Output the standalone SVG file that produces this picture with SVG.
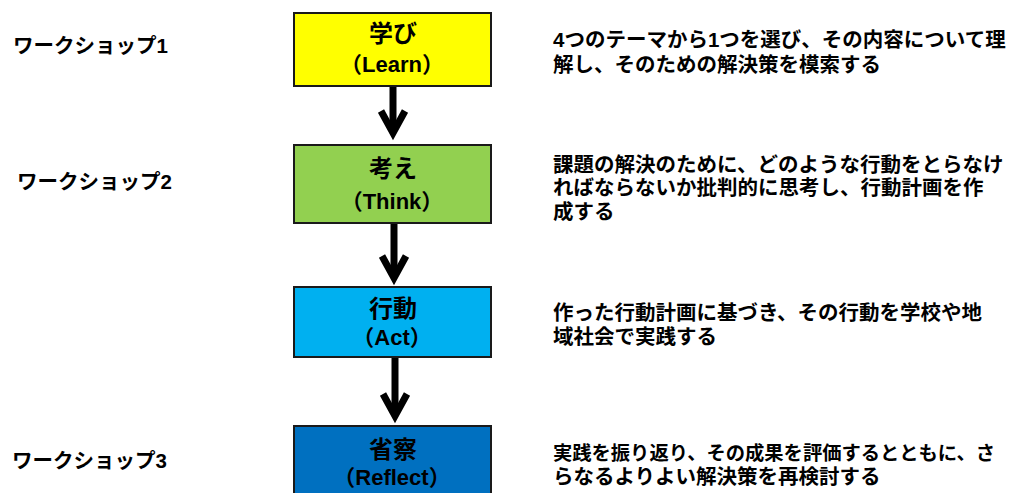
<svg xmlns="http://www.w3.org/2000/svg" width="1010" height="493" viewBox="0 0 1010 493">
<style>
  .box{stroke:#1a1a1a;stroke-width:2}
  .t{font-family:"Liberation Sans","Noto Sans CJK JP",sans-serif;font-weight:bold;fill:#000}
  .bt{font-size:22px;text-anchor:middle}
  .bk{font-size:24px;text-anchor:middle}
  .lt{font-size:20.5px}
  .dt{font-size:20.5px}
  .dn{font-size:19.3px}
  .conn{stroke:#000;stroke-width:7;fill:none}
</style>
<defs>
  <marker id="chev" markerUnits="userSpaceOnUse" viewBox="-30 -20 40 40" markerWidth="40" markerHeight="40" refX="0" refY="0" orient="auto" overflow="visible">
    <path d="M-22,-12 L0,0 L-22,12" stroke="#000" stroke-width="7" fill="none" stroke-linejoin="miter"/>
  </marker>
</defs>
<rect width="1010" height="493" fill="#fff"/>

<g id="connectors">
  <line class="conn" x1="393" y1="86" x2="393" y2="133" marker-end="url(#chev)"/>
  <line class="conn" x1="394" y1="223" x2="394" y2="278" marker-end="url(#chev)"/>
  <line class="conn" x1="395" y1="357" x2="395" y2="416" marker-end="url(#chev)"/>
</g>

<g id="node-learn">
  <rect class="box" x="294" y="13" width="197" height="73" fill="#FFFF00"/>
  <text class="t bk" x="393" y="42">学び</text>
  <text class="t bt" x="392" y="72">（Learn）</text>
</g>
<g id="node-think">
  <rect class="box" x="294" y="145" width="197" height="78" fill="#92D050"/>
  <text class="t bk" x="393" y="177">考え</text>
  <text class="t bt" x="392" y="209">（Think）</text>
</g>
<g id="node-act">
  <rect class="box" x="294" y="287" width="197" height="70" fill="#00B0F0"/>
  <text class="t bk" x="393" y="317">行動</text>
  <text class="t bt" x="392" y="345">（Act）</text>
</g>
<g id="node-reflect">
  <rect class="box" x="294" y="426" width="197" height="72" fill="#0070C0"/>
  <text class="t bk" x="393" y="458">省察</text>
  <text class="t bt" x="392" y="485">（Reflect）</text>
</g>

<g id="label-ws1"><text class="t lt" x="13" y="53">ワークショップ1</text></g>
<g id="label-ws2"><text class="t lt" x="17" y="189">ワークショップ2</text></g>
<g id="label-ws3"><text class="t lt" x="12" y="468">ワークショップ3</text></g>

<g id="desc-learn">
  <text class="t dt" x="553" y="47">4つのテーマから1つを選び、その内容について理</text>
  <text class="t dt" x="553" y="72">解し、そのための解決策を模索する</text>
</g>
<g id="desc-think">
  <text class="t dt" x="553" y="172">課題の解決のために、どのような行動をとらなけ</text>
  <text class="t dt" x="553" y="195">ればならないか批判的に思考し、行動計画を作</text>
  <text class="t dt" x="553" y="219">成する</text>
</g>
<g id="desc-act">
  <text class="t dt" x="553" y="320">作った行動計画に基づき、その行動を学校や地</text>
  <text class="t dt" x="553" y="344">域社会で実践する</text>
</g>
<g id="desc-reflect">
  <text class="t dn" x="553" y="460">実践を振り返り、その成果を評価するとともに、さ</text>
  <text class="t dt" x="553" y="484">らなるよりよい解決策を再検討する</text>
</g>
</svg>
